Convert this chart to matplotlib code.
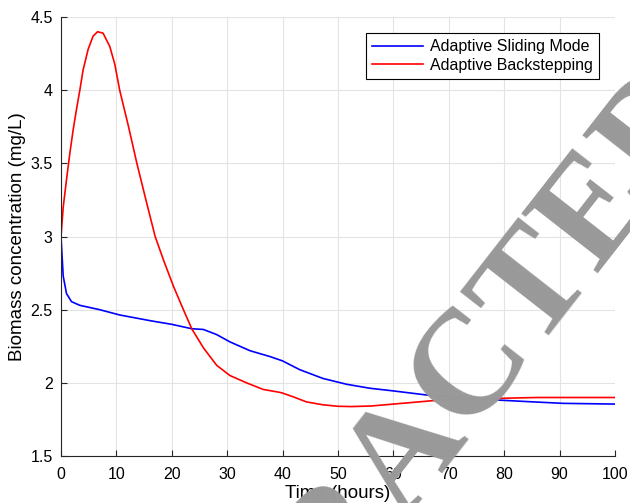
import numpy as np
import matplotlib
matplotlib.use("Agg")
import matplotlib.pyplot as plt

# --- data ---
t_asm = [0, 0.4, 1.0, 1.9, 3.4, 7.0, 10.6, 16.1, 20.0, 23.6, 25.7, 28.1, 30.5, 34.1, 37.7, 40.0,
         43.1, 47.3, 51.6, 55.8, 60.0, 66.0, 72.6, 78.6, 84.7, 90.6, 100]
x_asm = [3.0, 2.73, 2.61, 2.555, 2.53, 2.50, 2.464, 2.425, 2.40, 2.37, 2.365, 2.33, 2.28, 2.22, 2.18, 2.15,
         2.09, 2.03, 1.99, 1.963, 1.945, 1.917, 1.90, 1.883, 1.871, 1.86, 1.855]

t_abs = [0, 0.4, 1.0, 1.6, 2.2, 2.8, 3.4, 4.0, 4.9, 5.8, 6.6, 7.6, 8.8, 9.7, 10.6, 12.2, 13.7,
         15.4, 17.0, 18.5, 20.3, 22.1, 23.6, 25.7, 28.1, 30.5, 33.5, 36.5, 39.5, 40.0, 41.9,
         44.3, 47.3, 50.0, 52.5, 56.0, 60.0, 67.0, 74.2, 80.0, 86.0, 100]
x_abs = [3.0, 3.20, 3.39, 3.57, 3.73, 3.87, 4.00, 4.14, 4.28, 4.37, 4.40, 4.39, 4.30, 4.18, 4.00, 3.75, 3.50,
         3.24, 3.00, 2.84, 2.66, 2.50, 2.37, 2.24, 2.12, 2.05, 2.00, 1.955, 1.935, 1.93, 1.905,
         1.87, 1.85, 1.84, 1.838, 1.842, 1.855, 1.878, 1.89, 1.895, 1.90, 1.90]

x_ticks = [0, 10, 20, 30, 40, 50, 60, 70, 80, 90, 100]
y_ticks = [1.5, 2, 2.5, 3, 3.5, 4, 4.5]
y_tick_labels = ['1.5', '2', '2.5', '3', '3.5', '4', '4.5']

plt.rcParams['font.family'] = ['Liberation Sans', 'DejaVu Sans']

fig = plt.figure(figsize=(6.3, 5.03), dpi=100)
ax = fig.add_axes([0.0968, 0.0934, 0.8794, 0.8726])

ax.plot(t_asm, x_asm, color='#0000ff', lw=1.2, label='Adaptive Sliding Mode')
ax.plot(t_abs, x_abs, color='#ff0000', lw=1.2, label='Adaptive Backstepping')

ax.set_xlim(0, 100)
ax.set_ylim(1.5, 4.5)
ax.set_xticks(x_ticks)
ax.set_yticks(y_ticks)
ax.set_yticklabels(y_tick_labels)
ax.grid(True, color='#e3e3e3', lw=0.8)
ax.set_axisbelow(True)
for s in ['top', 'right']:
    ax.spines[s].set_visible(False)
for s in ['left', 'bottom']:
    ax.spines[s].set_color('#262626')
    ax.spines[s].set_linewidth(0.8)
ax.tick_params(direction='in', length=4, width=0.8, color='#262626', labelsize=11.5)
ax.tick_params(axis='x', pad=8)
ax.tick_params(axis='y', pad=6)

ax.set_xlabel('Time (hours)', fontsize=13.5, labelpad=2)
ax.set_ylabel('Biomass concentration (mg/L)', fontsize=13.5, labelpad=3)

leg = ax.legend(loc='upper right', bbox_to_anchor=(0.971, 0.9636), borderaxespad=0,
                fontsize=11.5, handlelength=3.2, handletextpad=0.4, labelspacing=0.2,
                borderpad=0.4, fancybox=False, framealpha=1)
leg.get_frame().set_edgecolor('black')
leg.get_frame().set_linewidth(0.8)

# watermark
fig.text(0.692, 0.050, 'RETRACTED', fontsize=107, fontweight='bold',
         family='Liberation Serif', color='#999999', rotation=52,
         rotation_mode='anchor', ha='center', va='baseline', zorder=10)

fig.savefig('out.png', dpi=100)
